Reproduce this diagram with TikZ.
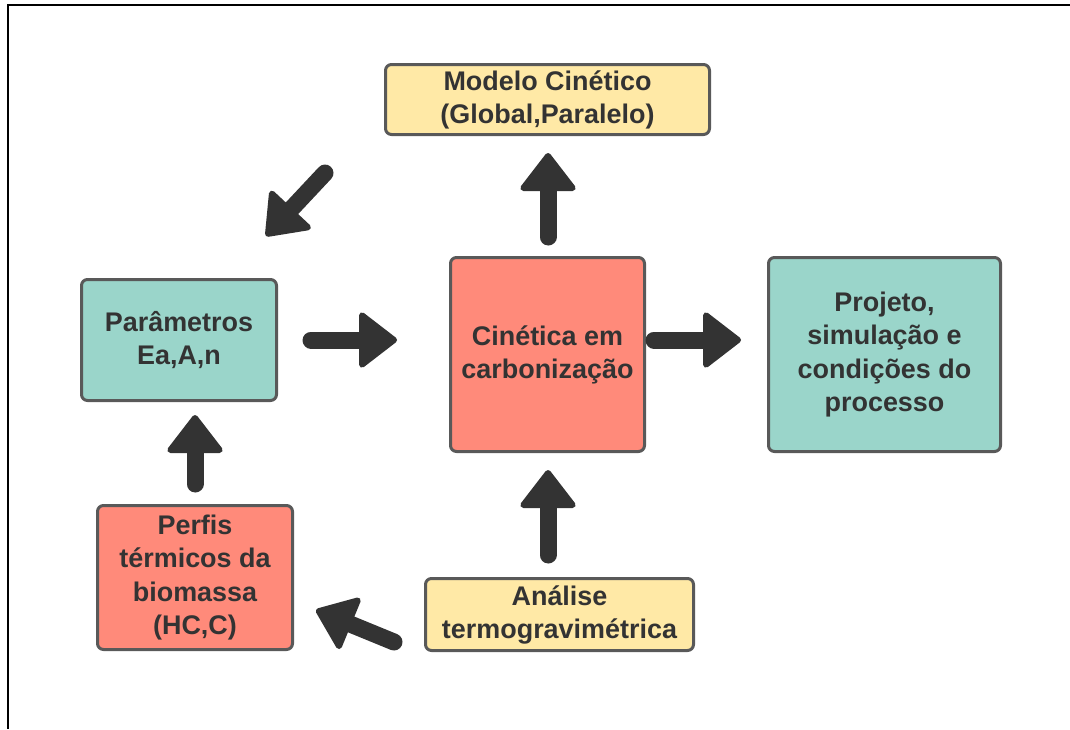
\documentclass[tikz,border=0pt]{standalone}
\usepackage{fontspec}
\setmainfont{Liberation Sans}
\usetikzlibrary{calc}

\definecolor{ink}{HTML}{333333}
\definecolor{edge}{HTML}{595959}
\definecolor{boxyellow}{HTML}{FFE9A6}
\definecolor{boxteal}{HTML}{9AD5CA}
\definecolor{boxsalmon}{HTML}{FF8A7A}

\tikzset{
  box/.style={draw=edge, line width=2.25pt, rounded corners=4.5pt, inner sep=0pt,
    align=center, text=ink, font=\bfseries\fontsize{20.2}{24.8}\selectfont},
  yellowbox/.style={box, fill=boxyellow},
  tealbox/.style={box, fill=boxteal},
  salmonbox/.style={box, fill=boxsalmon},
  arrowshaft/.style={draw=ink, line width=12.75pt, line cap=round},
  arrowhead/.style={fill=ink, draw=ink, line width=4.5pt, line join=round},
  frame/.style={draw=black, line width=1.5pt}
}

% thick block arrow: #1 tail, #2 tip, #3 prefix for helper coordinates
\newcommand\fatarrow[3]{%
  \coordinate (#3-b) at ($(#2)!26.25pt!(#1)$);
  \coordinate (#3-v) at ($(#2)!2.25pt!(#1)$);
  \draw[arrowshaft] (#1) -- (#3-b);
  \filldraw[arrowhead] (#3-v) -- ($(#3-b)!18.5pt!90:(#2)$)
    -- ($(#3-b)!18.5pt!-90:(#2)$) -- cycle;
}

\begin{document}
\begin{tikzpicture}[x=0.75pt,y=-0.75pt]
\useasboundingbox (0,0) rectangle (1070,729);
\fill[white] (0,0) rectangle (1070,729);

% page frame
\draw[frame] (1070,5) -- (8,5) -- (8,729);

% boxes
\node[yellowbox, minimum width=243pt, minimum height=52.5pt] (modelo) at (547.5,99.5)
  {Modelo Cinético\\(Global,Paralelo)};
\node[tealbox, minimum width=146.25pt, minimum height=90.75pt] (param) at (179,340)
  {Parâmetros\\Ea,A,n};
\node[salmonbox, minimum width=145.5pt, minimum height=145.5pt] (cin) at (547.5,354.5)
  {Cinética em\\carbonização};
\node[tealbox, minimum width=174pt, minimum height=145.5pt] (proj) at (884.5,354.5)
  {Projeto,\\simulação e\\condições do\\processo};
\node[salmonbox, minimum width=146.25pt, minimum height=108pt] (perfis) at (195,577.5)
  {Perfis\\térmicos da\\biomassa\\(HC,C)};
\node[yellowbox, minimum width=201pt, minimum height=54pt] (analise) at (559.5,614.5)
  {Análise\\termogravimétrica};

% arrow end points
\coordinate (t1) at (548,237);  \coordinate (h1) at (548,153);
\coordinate (t2) at (311,340);  \coordinate (h2) at (397,340);
\coordinate (t3) at (654,340);  \coordinate (h3) at (741,340);
\coordinate (t4) at (548,555);  \coordinate (h4) at (548,470);
\coordinate (t5) at (195,484);  \coordinate (h5) at (195,415);
\coordinate (t6) at (325,173);  \coordinate (h6) at (266,236);
\coordinate (t7) at (394,642);  \coordinate (h7) at (316,610);

% arrows
\fatarrow{t1}{h1}{a1}
\fatarrow{t2}{h2}{a2}
\fatarrow{t3}{h3}{a3}
\fatarrow{t4}{h4}{a4}
\fatarrow{t5}{h5}{a5}
\fatarrow{t6}{h6}{a6}
\fatarrow{t7}{h7}{a7}
\end{tikzpicture}
\end{document}
